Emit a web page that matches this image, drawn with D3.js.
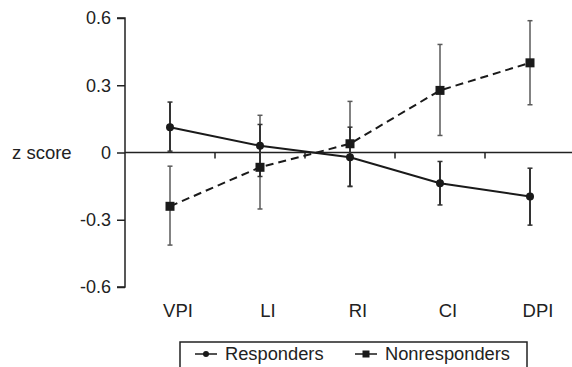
<!DOCTYPE html>
<html>
<head>
<meta charset="utf-8">
<script src="https://cdn.jsdelivr.net/npm/d3@7"></script>
<style>
  body { margin: 0; background: #fff; }
  svg { display: block; font-family: "Liberation Sans", Arial, sans-serif; }
</style>
</head>
<body>
<div id="chart"></div>
<script>
// categories and values
const categories = ['VPI', 'LI', 'RI', 'CI', 'DPI'];
const yTicks = [0.6, 0.3, 0, -0.3, -0.6];
const yTickLabels = ['0.6', '0.3', '0', '-0.3', '-0.6'];

const responders = [0.113, 0.030, -0.021, -0.137, -0.196];
const respondersLow = [0.006, -0.107, -0.152, -0.234, -0.324];
const respondersHigh = [0.225, 0.125, 0.113, -0.040, -0.070];

const nonresponders = [-0.240, -0.066, 0.039, 0.277, 0.400];
const nonrespondersLow = [-0.413, -0.252, -0.150, 0.076, 0.213];
const nonrespondersHigh = [-0.061, 0.166, 0.228, 0.482, 0.588];

const W = 572, H = 367;
const svg = d3.select('#chart').append('svg').attr('width', W).attr('height', H);

const x = d3.scaleBand().domain(categories).range([125, 575]).padding(0);
const y = d3.scaleLinear().domain([-0.6, 0.6]).range([287, 18]);
const cx = d => x(d) + x.bandwidth() / 2;

// y axis
const yAxis = svg.append('g').attr('transform', 'translate(125,0)')
	.call(d3.axisLeft(y).tickValues(yTicks).tickSize(8).tickPadding(6)
		.tickFormat((d, i) => yTickLabels[i]));
yAxis.select('.domain').attr('d', `M-8,${y(0.6)}H0V${y(-0.6)}H-8`).attr('stroke', '#222').attr('stroke-width', 1.5);
yAxis.selectAll('.tick line').attr('stroke', '#222').attr('stroke-width', 1.5);
yAxis.selectAll('.tick text').attr('fill', '#222').style('font-size', '18px');

// zero line with ticks between categories
svg.append('line').attr('x1', 125).attr('x2', 572).attr('y1', y(0)).attr('y2', y(0))
	.attr('stroke', '#222').attr('stroke-width', 1.5);
svg.append('g').selectAll('line').data(categories.slice(1)).enter().append('line')
	.attr('x1', d => x(d)).attr('x2', d => x(d))
	.attr('y1', y(0)).attr('y2', y(0) + 6)
	.attr('stroke', '#222').attr('stroke-width', 1.5);

// category labels
svg.append('g').selectAll('text').data(categories).enter().append('text')
	.attr('x', d => cx(d) + 8).attr('y', 317).attr('text-anchor', 'middle')
	.style('font-size', '18.5px').attr('fill', '#222').text(d => d);

svg.append('text').attr('x', 12).attr('y', y(0) + 6)
	.style('font-size', '18.5px').attr('fill', '#222').text('z score');

const series = [
	{ name: 'Responders', vals: responders, lo: respondersLow, hi: respondersHigh, dash: null, marker: 'circle', errColor: '#333', errWidth: 2 },
	{ name: 'Nonresponders', vals: nonresponders, lo: nonrespondersLow, hi: nonrespondersHigh, dash: '8,5', marker: 'square', errColor: '#5a5a5a', errWidth: 1.5 }
];

// error bars
series.slice().reverse().forEach(s => {
	const g = svg.append('g').attr('stroke', s.errColor).attr('stroke-width', s.errWidth);
	categories.forEach((c, i) => {
		g.append('line').attr('x1', cx(c)).attr('x2', cx(c)).attr('y1', y(s.lo[i])).attr('y2', y(s.hi[i]));
		[s.lo[i], s.hi[i]].forEach(v => {
			g.append('line').attr('x1', cx(c) - 2.5).attr('x2', cx(c) + 2.5).attr('y1', y(v)).attr('y2', y(v)).attr('stroke-width', 1.5);
		});
	});
});

// lines
const line = d3.line().x(d => cx(d.c)).y(d => y(d.v));
series.forEach(s => {
	svg.append('path')
		.datum(categories.map((c, i) => ({ c: c, v: s.vals[i] })))
		.attr('d', line).attr('fill', 'none').attr('stroke', '#1a1a1a').attr('stroke-width', 2)
		.attr('stroke-dasharray', s.dash);
});

// markers
const drawMarker = (g, type, px, py) => {
	if (type === 'circle') {
		g.append('circle').attr('cx', px).attr('cy', py).attr('r', 4).attr('fill', '#1a1a1a');
	} else {
		g.append('rect').attr('x', px - 4.5).attr('y', py - 4.5).attr('width', 9).attr('height', 9).attr('fill', '#1a1a1a');
	}
};
series.forEach(s => {
	const g = svg.append('g');
	categories.forEach((c, i) => drawMarker(g, s.marker, cx(c), y(s.vals[i])));
});

// legend
svg.append('rect').attr('x', 180).attr('y', 342).attr('width', 347).attr('height', 40)
	.attr('fill', 'none').attr('stroke', '#222').attr('stroke-width', 1.5);
const legendPos = [195, 355];
series.forEach((s, i) => {
	const g = svg.append('g');
	const lx = legendPos[i];
	g.append('line').attr('x1', lx).attr('x2', lx + 22).attr('y1', 354).attr('y2', 354)
		.attr('stroke', '#1a1a1a').attr('stroke-width', 1.5);
	if (s.marker === 'circle') {
		g.append('circle').attr('cx', lx + 11).attr('cy', 354).attr('r', 3).attr('fill', '#1a1a1a');
	} else {
		g.append('rect').attr('x', lx + 7.5).attr('y', 350.5).attr('width', 7).attr('height', 7).attr('fill', '#1a1a1a');
	}
	g.append('text').attr('x', lx + 30).attr('y', 360).style('font-size', '18.3px').attr('fill', '#222').text(s.name);
});
</script>
</body>
</html>
